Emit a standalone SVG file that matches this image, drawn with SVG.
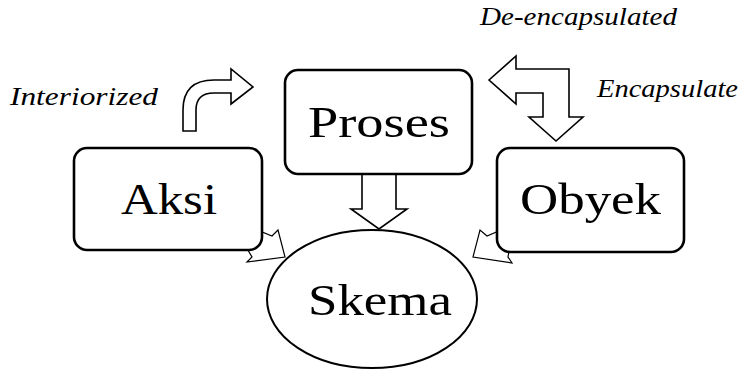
<svg xmlns="http://www.w3.org/2000/svg" width="744" height="372" viewBox="0 0 744 372">
<style>
.box{fill:#fff;stroke:#000;stroke-width:2.6}
.arr{fill:#fff;stroke:#000;stroke-width:1.6;stroke-linejoin:miter}
.thin{fill:#fff;stroke:#000;stroke-width:1.2}
</style>
<rect width="744" height="372" fill="#fff"/>
<g id="connectors">
<path class="thin" d="M250,227 L272,236 L278,230 L285,257 L247,262 L252,257 L245,245 Z"/>
<path class="thin" d="M508,227 L487,236 L480,230 L473,257 L512,263 L508,257 L510,245 Z"/>
<path class="arr" d="M362,170 L362,209 L351,209 L379,229 L407,209 L396,209 L396,170 Z"/>
<path class="arr" d="M183,131 L183,110 Q183,80 214,80 L231,80 L231,69 L253,87 L231,104 L231,93 L214,93 Q196,93 196,110 L196,131 Z"/>
<path class="arr" d="M489,80 L516,56 L516,69 L569,69 L569,117 L583,117 L556,141 L529,117 L543,117 L543,93 L516,93 L516,104 Z"/>
</g>
<g font-family="Liberation Serif, serif" font-size="44" fill="#000">
<g id="aksi">
<rect class="box" x="74" y="148" width="188" height="102" rx="13"/>
<text x="121" y="214" textLength="96" lengthAdjust="spacingAndGlyphs">Aksi</text>
</g>
<g id="proses">
<rect class="box" x="285" y="70" width="187" height="104" rx="13"/>
<text x="308" y="137" textLength="142" lengthAdjust="spacingAndGlyphs">Proses</text>
</g>
<g id="obyek">
<rect class="box" x="497" y="148" width="187" height="104" rx="13"/>
<text x="520" y="214" textLength="141" lengthAdjust="spacingAndGlyphs">Obyek</text>
</g>
<g id="skema">
<ellipse cx="372" cy="299" rx="105" ry="69" fill="#fff" stroke="#000" stroke-width="2"/>
<text x="308" y="315" textLength="144" lengthAdjust="spacingAndGlyphs">Skema</text>
</g>
</g>
<g id="labels" font-family="Liberation Serif, serif" font-size="26" font-style="italic" fill="#000">
<text x="10" y="105" textLength="148" lengthAdjust="spacingAndGlyphs">Interiorized</text>
<text x="480" y="25" textLength="197" lengthAdjust="spacingAndGlyphs">De-encapsulated</text>
<text x="597" y="97" textLength="141" lengthAdjust="spacingAndGlyphs">Encapsulate</text>
</g>
</svg>
